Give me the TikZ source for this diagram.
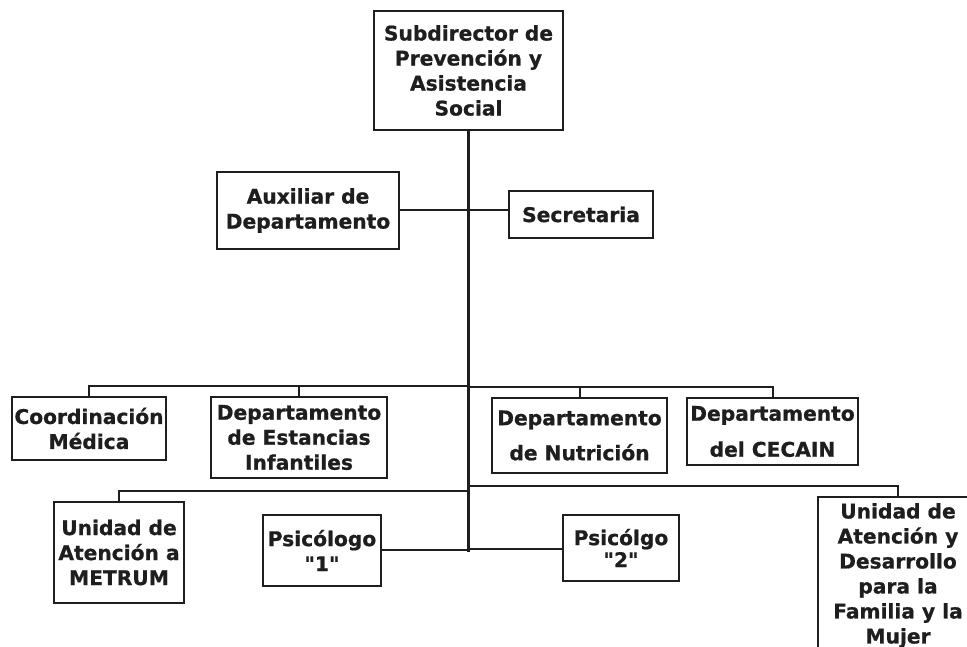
\documentclass[tikz,border=0pt]{standalone}
\usepackage{fontspec}
\setmainfont{DejaVu Sans}[Ligatures=TeXOff, BoldFeatures={FakeBold=0.8}]
\definecolor{ink}{HTML}{1E1E1E}
\begin{document}
\begin{tikzpicture}[x=1pt,y=-1pt,
  box/.style={draw=ink, line width=2pt, fill=white, inner sep=0pt, align=center,
    font=\fontsize{20.2}{25}\selectfont\bfseries, text=ink},
  conn/.style={draw=ink, line width=2pt},
  trunk/.style={draw=ink, line width=3pt}]
\path[use as bounding box, clip] (0,0) rectangle (967,647);
\fill[white] (0,0) rectangle (967,647);

% nodes
\node[box, minimum width=189pt, minimum height=119pt] (sub) at (468.5,70.5)
  {Subdirector de\\Prevención y\\Asistencia\\Social};
\node[box, minimum width=182pt, minimum height=77pt] (aux) at (308,210.5)
  {Auxiliar de\\Departamento};
\node[box, minimum width=144pt, minimum height=47pt] (sec) at (581,214.5)
  {Secretaria};

\node[box, minimum width=154pt, minimum height=63pt] (coord) at (89,428.5)
  {Coordinación\\Médica};
\node[box, minimum width=176pt, minimum height=81pt] (estan) at (299,437.5)
  {Departamento\\de Estancias\\Infantiles};
\node[box, minimum width=175pt, minimum height=75pt] (nutri) at (579.5,435.5)
  {Departamento\\[10pt]de Nutrición};
\node[box, minimum width=171pt, minimum height=67pt] (cecain) at (772.5,431.5)
  {Departamento\\[11pt]del CECAIN};

\node[box, minimum width=130pt, minimum height=101pt] (metrum) at (119,552.5)
  {Unidad de\\Atención a\\METRUM};
\node[box, minimum width=118pt, minimum height=71pt] (psia) at (322,550.5)
  {Psicólogo\\"1"};
\node[box, minimum width=116pt, minimum height=66pt] (psib) at (621,548)
  {Psicólgo\\[-3pt]"2"};
\node[box, minimum width=160pt, minimum height=157pt] (uad) at (898,575.5)
  {Unidad de\\Atención y\\Desarrollo\\para la\\Familia y la\\Mujer};

% junction coordinates on the trunk
\coordinate (jL) at (468,386);
\coordinate (jR) at (468,387);
\coordinate (jM) at (468,491);
\coordinate (jU) at (468,486);
\coordinate (jP1) at (468,550);
\coordinate (jP2) at (468,549);
\coordinate (tend) at (468,551.5);

% connectors
\draw[conn] (aux.east) -- (aux.east -| sec.west);
\draw[conn] (coord.north) |- (jL);
\draw[conn] (estan.north) |- (jL);
\draw[conn] (nutri.north) |- (jR);
\draw[conn] (cecain.north) |- (jR);
\draw[conn] (metrum.north) |- (jM);
\draw[conn] (uad.north) |- (jU);
\draw[conn] (psia.east |- jP1) -- (jP1);
\draw[conn] (psib.west |- jP2) -- (jP2);
\draw[trunk] (sub.south -| tend) -- (tend);
\end{tikzpicture}
\end{document}
